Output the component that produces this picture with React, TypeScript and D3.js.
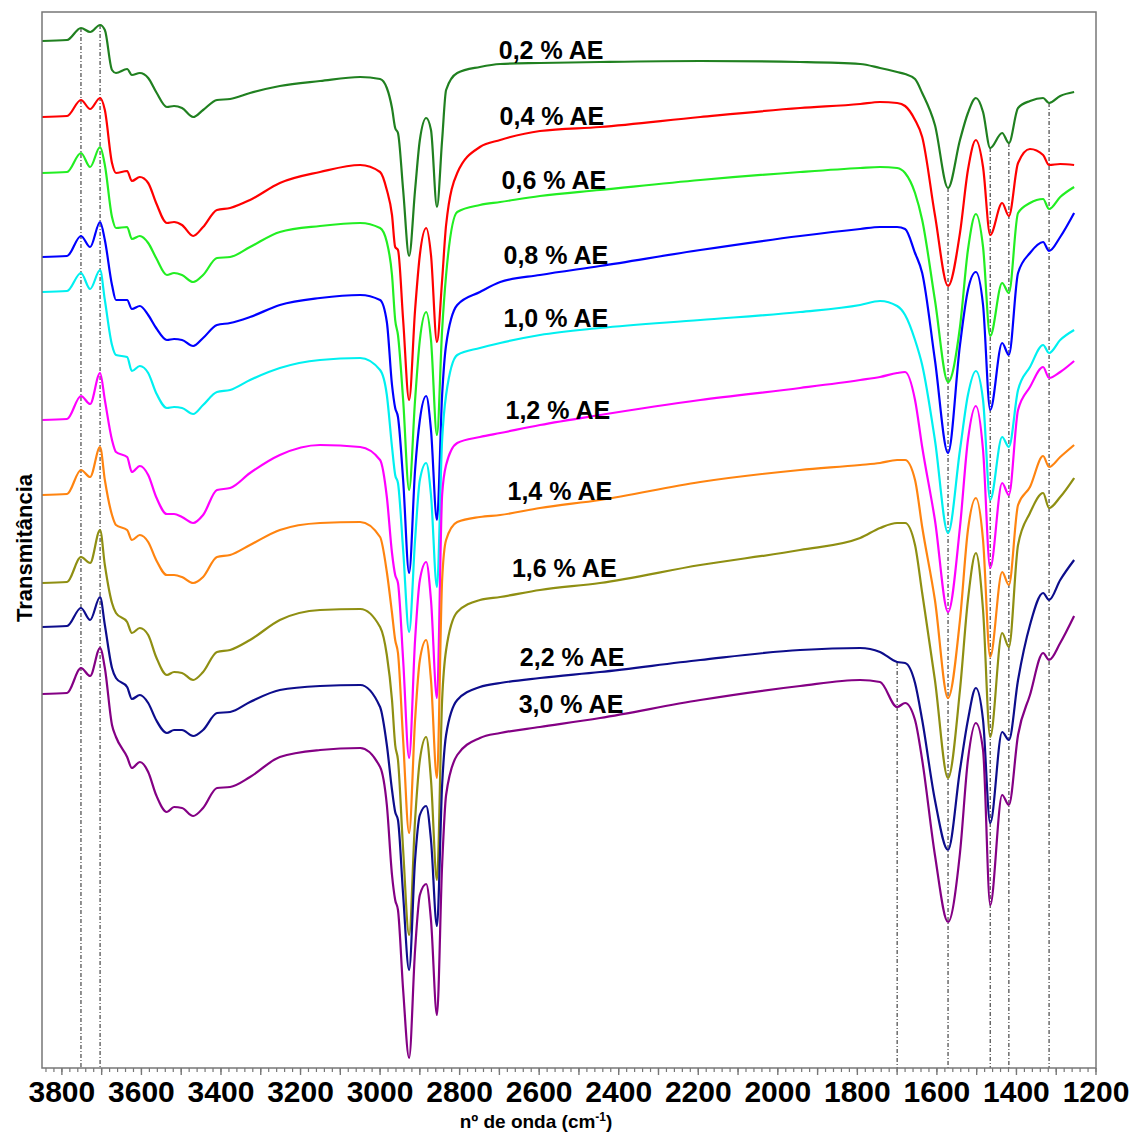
import React from 'react';
import * as d3 from 'd3';

// Wavenumber grid (cm-1), shared by all spectra
const wavenumbers = [3850,3787,3752,3729,3704,3692,3674,3664,3636,3624,3604,3583,3563,3536,3518,3498,3470,3445,3410,3377,3327,3252,3151,3050,3000,2983,2970,2962,2955,2942,2927,2912,2900,2884,2872,2857,2844,2834,2806,2749,2698,2598,2447,2195,1944,1793,1743,1700,1680,1655,1637,1605,1572,1542,1522,1502,1484,1466,1436,1419,1396,1366,1333,1318,1290,1255];

// Transmittance (arbitrary units, stacked spectra)
const ae02 = [1027,1028,1040,1036,1043,1038,998,995,999,993,995,990,976,961,962,960,951,958,968,969,975,982,987,991,989,980,960,940,935,878,812,878,928,950,938,861,928,978,995,1001,1004,1005,1006,1007,1006,1004,1000,996,994,989,975,943,880,928,955,970,956,920,935,925,960,967,970,965,972,976];
const ae04 = [951,952,968,959,970,958,905,895,897,887,891,885,865,845,846,843,832,841,858,860,868,885,896,903,896,878,853,821,818,748,668,758,813,840,813,726,788,843,895,921,928,937,941,951,960,964,966,965,962,948,931,853,782,835,898,928,901,833,865,852,905,919,913,903,904,903];
const ae06 = [895,896,915,901,921,903,851,840,841,829,832,825,810,793,795,793,786,793,810,811,821,836,842,845,840,826,793,748,733,668,578,668,728,756,728,633,738,793,856,863,866,872,878,888,896,900,901,900,895,875,848,768,686,741,818,854,821,732,785,775,855,865,869,859,871,881];
const ae08 = [811,812,832,821,846,828,783,768,768,759,762,753,740,728,729,728,722,730,743,745,751,763,770,773,768,746,683,660,651,588,495,598,648,672,638,548,673,723,763,776,786,793,802,818,832,839,841,841,839,815,795,708,615,723,778,796,763,658,725,713,795,815,826,817,831,855];
const ae10 = [776,777,795,779,798,768,723,713,711,697,702,695,675,660,661,660,654,663,676,678,688,700,708,710,698,673,621,593,585,518,436,528,588,605,573,481,628,673,713,720,725,733,740,748,756,763,767,762,753,728,703,628,535,618,673,697,668,568,631,621,678,701,723,715,728,738];
const ae12 = [648,649,672,664,695,668,628,616,611,596,602,593,571,554,554,551,545,553,578,580,595,613,623,621,608,571,515,493,485,408,310,428,488,506,468,370,573,603,625,631,635,643,653,668,680,688,691,695,696,668,621,548,456,541,628,662,618,500,585,573,658,681,701,690,696,707];
const ae14 = [573,574,598,591,621,588,553,543,538,528,533,526,508,493,493,491,485,491,511,513,523,538,545,546,531,496,455,428,415,328,235,348,408,428,388,290,488,528,546,551,553,560,568,586,598,603,605,608,608,588,541,468,370,448,538,570,528,411,496,483,563,581,612,601,611,623];
const ae16 = [485,486,511,505,538,503,465,455,446,435,440,433,411,393,396,395,388,396,416,418,428,448,458,459,441,413,368,323,308,218,133,248,308,331,288,188,368,418,456,468,471,478,485,503,518,530,540,545,545,523,475,388,290,378,468,515,458,331,435,421,523,555,575,560,571,590];
const ae22 = [441,442,460,448,471,443,400,390,381,369,373,365,348,335,338,338,332,338,355,356,366,378,382,383,361,323,278,256,248,173,98,208,253,262,228,142,283,333,368,381,385,390,396,408,418,420,416,406,405,385,348,268,218,298,348,380,348,245,336,328,388,443,475,468,488,508];
const ae30 = [374,375,400,392,420,400,343,331,311,300,306,296,273,256,261,260,252,260,280,281,291,311,318,320,301,263,193,168,158,78,10,118,173,184,148,53,203,273,313,330,335,341,350,368,382,388,386,361,365,348,308,213,146,215,308,345,318,163,273,263,333,373,415,408,425,452];

const seriesValues = [ae02, ae04, ae06, ae08, ae10, ae12, ae14, ae16, ae22, ae30];
const seriesLabels = ['0,2 % AE','0,4 % AE','0,6 % AE','0,8 % AE','1,0 % AE','1,2 % AE','1,4 % AE','1,6 % AE','2,2 % AE','3,0 % AE'];
const seriesColors = ['#208020','#ff0000','#22ee22','#0000ff','#00f0f0','#ff00ff','#ff8410','#8f8f12','#0d0d8c','#840084'];

// Label anchor positions (wavenumber, level)
const labelWn = [2570,2568,2563,2558,2558,2553,2548,2537,2517,2520];
const labelLevel = [1018,952,888,813,750,658,577,500,411,364];

// Band markers (dash-dot lines) and the spectrum each starts from
const markerWn = [3752,3704,1700,1572,1466,1419,1318];
const markerFrom = [0,0,8,0,0,0,0];

const majorTicks = [3800,3600,3400,3200,3000,2800,2600,2400,2200,2000,1800,1600,1400,1200];

export default function App() {
  const W = 1135, H = 1135;
  const left = 42, right = 1096, top = 12, bottom = 1068;
  const x = d3.scaleLinear().domain([3850, 1200]).range([left, right]);
  const y = d3.scaleLinear().domain([0, 1056]).range([bottom, top]);
  const line = d3.line<number>()
    .x((_, i) => x(wavenumbers[i]))
    .y(d => y(d))
    .curve(d3.curveMonotoneX);

  const minor = d3.range(1200, 3851, 20);
  const mid = d3.range(1200, 3851, 100);
  const font = 'Arial, "Liberation Sans", Helvetica, sans-serif';

  return (
    <svg width={W} height={H} style={{ position: 'absolute', left: 0, top: 0, background: '#fff' }}>
      <rect x={0} y={0} width={W} height={H} fill="#fff" />
      {/* markers */}
      {markerWn.map((wn, k) => {
        const idx = wavenumbers.indexOf(wn);
        const y0 = y(seriesValues[markerFrom[k]][idx]);
        return (
          <line key={'m' + k} x1={x(wn)} x2={x(wn)} y1={y0} y2={bottom}
            stroke="#222" strokeWidth={1} strokeDasharray="4,2,1,2" />
        );
      })}
      {/* spectra */}
      {seriesValues.map((vals, i) => (
        <path key={'s' + i} d={line(vals) || ''} fill="none" stroke={seriesColors[i]} strokeWidth={2.2} strokeLinejoin="round" />
      ))}
      {/* frame */}
      <rect x={left} y={top} width={right - left} height={bottom - top} fill="none" stroke="#777" strokeWidth={1.5} />
      {/* ticks */}
      {minor.map(t => (
        <line key={'t' + t} x1={x(t)} x2={x(t)} y1={bottom} y2={bottom + 4} stroke="#777" strokeWidth={1.2} />
      ))}
      {mid.map(t => (
        <line key={'T' + t} x1={x(t)} x2={x(t)} y1={bottom} y2={bottom + 7} stroke="#777" strokeWidth={1.4} />
      ))}
      {majorTicks.map(t => (
        <text key={'l' + t} x={x(t)} y={1102} textAnchor="middle" fontFamily={font} fontWeight="bold" fontSize={30} fill="#000">{t}</text>
      ))}
      <text x={536} y={1128} textAnchor="middle" fontFamily={font} fontWeight="bold" fontSize={19} fill="#000">
        nº de onda (cm<tspan baselineShift="super" fontSize={12}>-1</tspan>)
      </text>
      <text transform="translate(32,548) rotate(-90)" textAnchor="middle" fontFamily={font} fontWeight="bold" fontSize={22} fill="#000">Transmitância</text>
      {/* labels */}
      {seriesLabels.map((lab, i) => (
        <text key={'L' + i} x={x(labelWn[i])} y={y(labelLevel[i])} dy="0.36em" textAnchor="middle" fontFamily={font} fontWeight="bold" fontSize={25} fill="#000">{lab}</text>
      ))}
    </svg>
  );
}
